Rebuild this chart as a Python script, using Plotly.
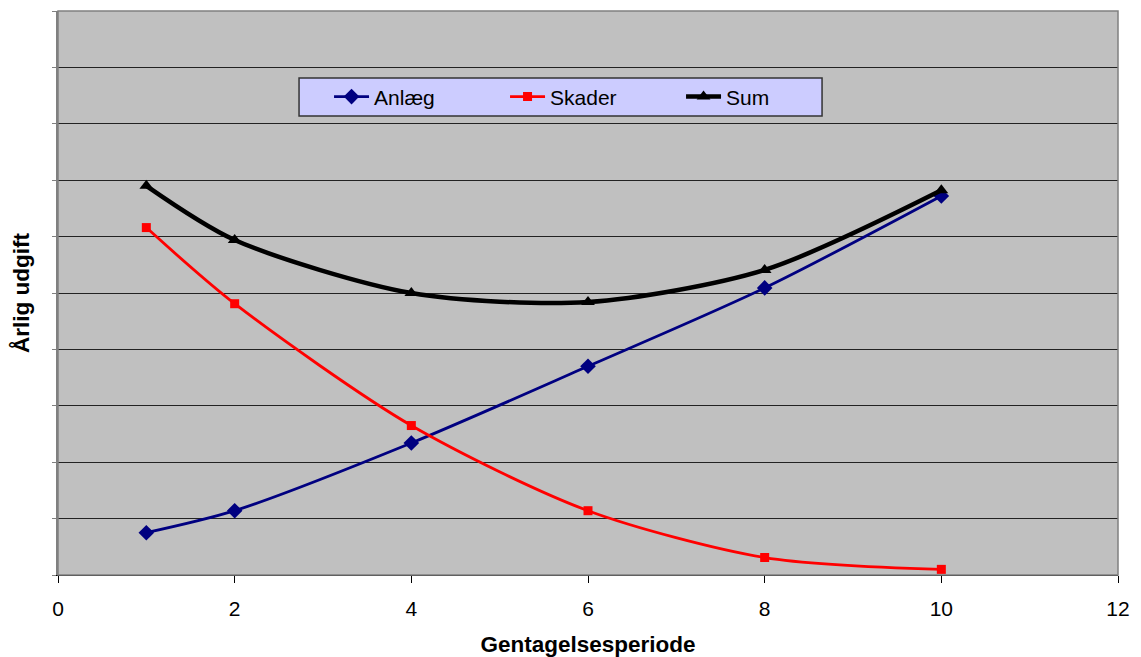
import plotly.graph_objects as go

periods = [1, 2, 4, 6, 8, 10]
anlaeg = [0.75, 1.14, 2.34, 3.70, 5.09, 6.72]
skader = [6.16, 4.81, 2.65, 1.14, 0.31, 0.10]
total = [6.90, 5.94, 5.00, 4.84, 5.41, 6.82]

x_ticks = [0, 2, 4, 6, 8, 10, 12]

fig = go.Figure()
fig.add_trace(go.Scatter(
    x=periods, y=anlaeg, name="Anlæg", mode="lines+markers",
    line=dict(color="#000080", width=2.8, shape="spline", smoothing=0.8),
    marker=dict(symbol="diamond", size=12, color="#000080"),
))
fig.add_trace(go.Scatter(
    x=periods, y=skader, name="Skader", mode="lines+markers",
    line=dict(color="#ff0000", width=2.8, shape="spline", smoothing=0.8),
    marker=dict(symbol="square", size=9, color="#ff0000"),
))
fig.add_trace(go.Scatter(
    x=periods, y=total, name="Sum", mode="lines+markers",
    line=dict(color="#000000", width=4.5, shape="spline", smoothing=0.8),
    marker=dict(symbol="triangle-up", size=12, color="#000000"),
))

fig.update_layout(
    width=1133, height=649,
    margin=dict(l=50, r=23, t=3, b=81.5),
    paper_bgcolor="white",
    plot_bgcolor="#c0c0c0",
    font=dict(family="Liberation Sans, Arial, sans-serif", size=21, color="black"),
    showlegend=True,
    legend=dict(
        orientation="h",
        x=0.2557, y=0.8476, xanchor="left", yanchor="middle",
        bgcolor="rgba(0,0,0,0)", borderwidth=0,
        font=dict(size=21),
        entrywidth=126, entrywidthmode="pixels",
        itemwidth=35,
    ),
    xaxis=dict(
        range=[0, 12], tickvals=x_ticks, ticktext=[str(v) for v in x_ticks],
        showgrid=False, zeroline=False,
        showline=True, linecolor="black", linewidth=1,
        ticks="outside", ticklen=7, tickcolor="black",
        tickfont=dict(size=21), ticklabelstandoff=8,
        title=dict(text="<b>Gentagelsesperiode</b>", font=dict(size=22.5), standoff=19),
    ),
    yaxis=dict(
        range=[0, 10], dtick=1,
        showticklabels=False,
        showgrid=True, gridcolor="#222222", gridwidth=1,
        zeroline=False,
        showline=True, linecolor="#808080", linewidth=1.5,
        ticks="outside", ticklen=4, tickcolor="#808080",
        title=dict(text="<b>Årlig udgift</b>", font=dict(size=22.5), standoff=18),
    ),
)

# legend frame
fig.add_shape(type="rect", xref="paper", yref="paper",
              x0=0.2274, x1=0.7208, y0=0.814, y1=0.8813,
              fillcolor="#ccccff", line=dict(color="#333333", width=1.5), layer="below")

# plot area frame
fig.add_shape(type="rect", xref="paper", yref="paper", x0=0, y0=0, x1=1, y1=1,
              line=dict(color="#808080", width=1.5), layer="above")

fig.write_html("out.html")
